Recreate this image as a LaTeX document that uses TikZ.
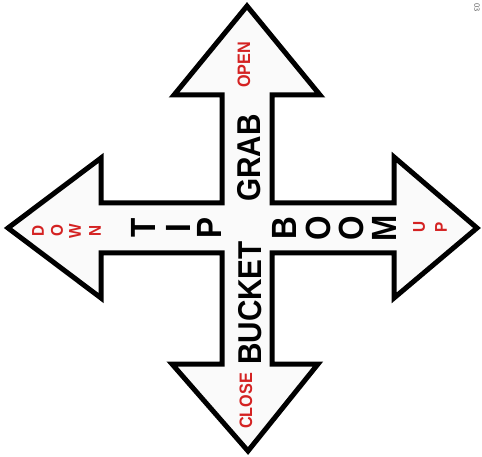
\documentclass[tikz,border=0pt]{standalone}
\usepackage{fontspec}
\newfontfamily\signfont{Liberation Sans}[FakeStretch=0.9]
\usepackage{tikz}
\definecolor{signred}{HTML}{D42222}

\begin{document}
\begin{tikzpicture}[x=1pt, y=-1pt,
  word/.style={font=\signfont\bfseries\fontsize{33}{33}\selectfont, rotate=90, inner sep=0pt},
  letter/.style={font=\signfont\bfseries\fontsize{35}{35}\selectfont, rotate=90, inner sep=0pt},
  redword/.style={font=\signfont\bfseries\fontsize{18}{18}\selectfont, text=signred, rotate=90, inner sep=0pt},
  redletter/.style={font=\signfont\bfseries\fontsize{17}{17}\selectfont, text=signred, rotate=90, inner sep=0pt},
  outline/.style={draw=black, line width=5pt, fill=black!2, line join=miter}]
\useasboundingbox (0,0) rectangle (482,457);
% four-way arrow
\draw[outline] (247,6) -- (320,95) -- (272,95) -- (272,203) -- (394,203) -- (394,157)
  -- (477,228) -- (394,298) -- (394,253) -- (272,253) -- (272,364) -- (318,364)
  -- (248,451) -- (172,364) -- (222,364) -- (222,253) -- (101,253) -- (101,298)
  -- (8,228) -- (101,158) -- (101,203) -- (222,203) -- (222,95) -- (174,95) -- cycle;
% vertical words
\node[redword] (open) at (244,65) {OPEN};
\node[word] (grab) at (249,158) {GRAB};
\node[word] (bucket) at (250,303) {BUCKET};
\node[redword] (close) at (246,401) {CLOSE};
% horizontal words, one letter at a time
\foreach \l/\x [count=\i] in {D/38, O/57, W/75, N/95}
  \node[redletter] (down\i) at (\x,231) {\l};
\foreach \l/\x [count=\i] in {T/143, I/178, P/209}
  \node[letter] (tip\i) at (\x,228) {\l};
\foreach \l/\x [count=\i] in {B/284, O/318, O/351, M/384}
  \node[letter] (boom\i) at (\x,228) {\l};
\foreach \l/\x [count=\i] in {U/419, P/441}
  \node[redletter] (up\i) at (\x,227) {\l};
\node[font=\sffamily\fontsize{8}{8}\selectfont, text=black!60, rotate=-90, inner sep=0pt] (code) at (477,8) {03};
\end{tikzpicture}
\end{document}
